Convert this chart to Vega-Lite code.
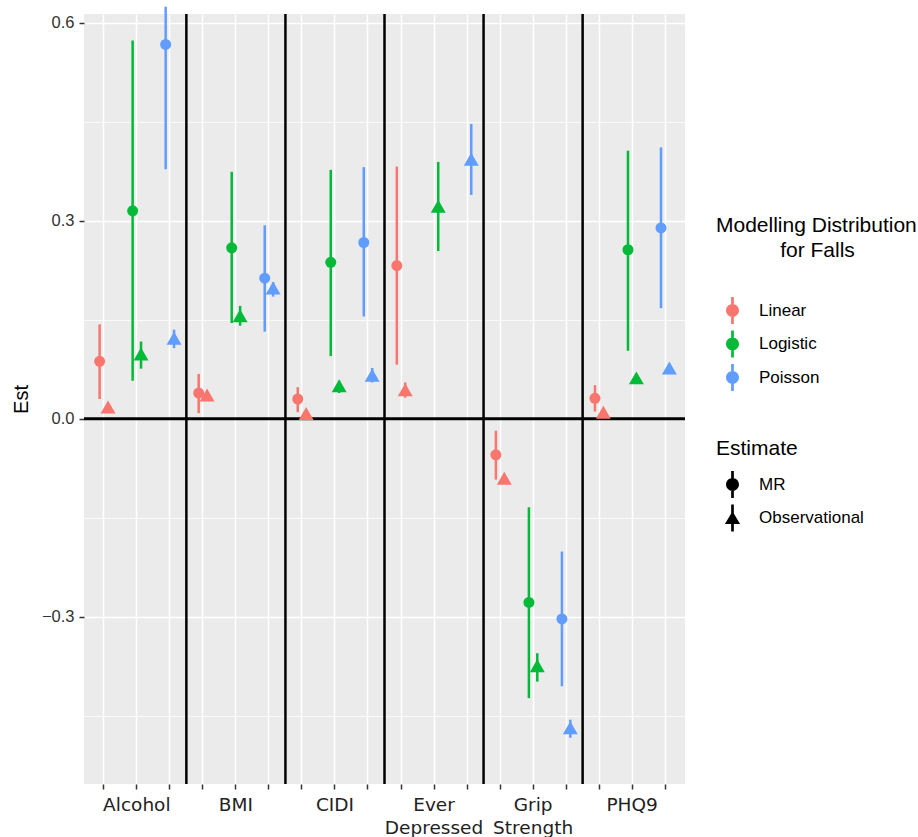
{
  "$schema": "https://vega.github.io/schema/vega-lite/v6.json",
  "width": 601,
  "height": 770,
  "padding": {"left": 11, "top": 5, "right": 0, "bottom": 0},
  "background": "white",
  "config": {
    "view": {"fill": "#EBEBEB", "stroke": null},
    "font": "Liberation Sans"
  },
  "layer": [
    {
      "data": {"values": [
        {"cat": "Alcohol|Poisson"},
        {"cat": "BMI|Poisson"},
        {"cat": "CIDI|Poisson"},
        {"cat": "Ever Depressed|Poisson"},
        {"cat": "Grip Strength|Poisson"}
      ]},
      "mark": {"type": "rule", "color": "black", "strokeWidth": 2.5},
      "encoding": {
        "x": {
          "field": "cat",
          "type": "nominal",
          "bandPosition": 1,
          "scale": {
            "domain": [
              "Alcohol|Linear", "Alcohol|Logistic", "Alcohol|Poisson",
              "BMI|Linear", "BMI|Logistic", "BMI|Poisson",
              "CIDI|Linear", "CIDI|Logistic", "CIDI|Poisson",
              "Ever Depressed|Linear", "Ever Depressed|Logistic", "Ever Depressed|Poisson",
              "Grip Strength|Linear", "Grip Strength|Logistic", "Grip Strength|Poisson",
              "PHQ9|Linear", "PHQ9|Logistic", "PHQ9|Poisson"
            ],
            "paddingInner": 0,
            "paddingOuter": 0.1
          },
          "axis": {
            "title": null,
            "domain": false,
            "grid": true,
            "gridColor": "white",
            "gridWidth": 1.5,
            "ticks": true,
            "tickColor": "#333333",
            "tickSize": 5,
            "tickWidth": 1.5,
            "bandPosition": 0.5,
            "labelExpr": "indexof(datum.value, '|Logistic') > 0 ? split(slice(datum.value, 0, indexof(datum.value, '|')), ' ') : ''",
            "labelFont": "DejaVu Sans",
            "labelFontSize": 18.5,
            "labelColor": "#222222",
            "labelPadding": 6,
            "labelLineHeight": 23,
            "labelAngle": 0,
            "labelOverlap": false,
            "labelBound": false,
            "labelLimit": 0
          }
        }
      }
    },
    {
      "data": {"values": [{}]},
      "mark": {"type": "rule", "color": "black", "strokeWidth": 3},
      "encoding": {
        "y": {"datum": 0, "type": "quantitative", "title": "Est"}
      }
    },
    {
      "data": {"values": [
        {"exp": "Alcohol", "dist": "Linear", "Estimate": "MR", "Est": 0.087, "lo": 0.030, "hi": 0.143},
        {"exp": "Alcohol", "dist": "Linear", "Estimate": "Observational", "Est": 0.018, "lo": 0.014, "hi": 0.022},
        {"exp": "Alcohol", "dist": "Logistic", "Estimate": "MR", "Est": 0.315, "lo": 0.0575, "hi": 0.573},
        {"exp": "Alcohol", "dist": "Logistic", "Estimate": "Observational", "Est": 0.098, "lo": 0.076, "hi": 0.117},
        {"exp": "Alcohol", "dist": "Poisson", "Estimate": "MR", "Est": 0.567, "lo": 0.378, "hi": 0.624},
        {"exp": "Alcohol", "dist": "Poisson", "Estimate": "Observational", "Est": 0.122, "lo": 0.107, "hi": 0.135},
        {"exp": "BMI", "dist": "Linear", "Estimate": "MR", "Est": 0.039, "lo": 0.0086, "hi": 0.068},
        {"exp": "BMI", "dist": "Linear", "Estimate": "Observational", "Est": 0.036, "lo": 0.032, "hi": 0.040},
        {"exp": "BMI", "dist": "Logistic", "Estimate": "MR", "Est": 0.259, "lo": 0.145, "hi": 0.374},
        {"exp": "BMI", "dist": "Logistic", "Estimate": "Observational", "Est": 0.156, "lo": 0.141, "hi": 0.171},
        {"exp": "BMI", "dist": "Poisson", "Estimate": "MR", "Est": 0.213, "lo": 0.132, "hi": 0.293},
        {"exp": "BMI", "dist": "Poisson", "Estimate": "Observational", "Est": 0.198, "lo": 0.185, "hi": 0.207},
        {"exp": "CIDI", "dist": "Linear", "Estimate": "MR", "Est": 0.030, "lo": 0.010, "hi": 0.048},
        {"exp": "CIDI", "dist": "Linear", "Estimate": "Observational", "Est": 0.008, "lo": 0.005, "hi": 0.011},
        {"exp": "CIDI", "dist": "Logistic", "Estimate": "MR", "Est": 0.237, "lo": 0.095, "hi": 0.377},
        {"exp": "CIDI", "dist": "Logistic", "Estimate": "Observational", "Est": 0.050, "lo": 0.039, "hi": 0.0575},
        {"exp": "CIDI", "dist": "Poisson", "Estimate": "MR", "Est": 0.267, "lo": 0.155, "hi": 0.381},
        {"exp": "CIDI", "dist": "Poisson", "Estimate": "Observational", "Est": 0.066, "lo": 0.055, "hi": 0.077},
        {"exp": "Ever Depressed", "dist": "Linear", "Estimate": "MR", "Est": 0.232, "lo": 0.082, "hi": 0.382},
        {"exp": "Ever Depressed", "dist": "Linear", "Estimate": "Observational", "Est": 0.044, "lo": 0.032, "hi": 0.055},
        {"exp": "Ever Depressed", "dist": "Logistic", "Estimate": "Observational", "Est": 0.322, "lo": 0.254, "hi": 0.389},
        {"exp": "Ever Depressed", "dist": "Poisson", "Estimate": "Observational", "Est": 0.393, "lo": 0.339, "hi": 0.4465},
        {"exp": "Grip Strength", "dist": "Linear", "Estimate": "MR", "Est": -0.0545, "lo": -0.092, "hi": -0.018},
        {"exp": "Grip Strength", "dist": "Linear", "Estimate": "Observational", "Est": -0.090, "lo": -0.094, "hi": -0.086},
        {"exp": "Grip Strength", "dist": "Logistic", "Estimate": "MR", "Est": -0.278, "lo": -0.423, "hi": -0.134},
        {"exp": "Grip Strength", "dist": "Logistic", "Estimate": "Observational", "Est": -0.374, "lo": -0.398, "hi": -0.355},
        {"exp": "Grip Strength", "dist": "Poisson", "Estimate": "MR", "Est": -0.303, "lo": -0.405, "hi": -0.201},
        {"exp": "Grip Strength", "dist": "Poisson", "Estimate": "Observational", "Est": -0.468, "lo": -0.483, "hi": -0.4556},
        {"exp": "PHQ9", "dist": "Linear", "Estimate": "MR", "Est": 0.031, "lo": 0.011, "hi": 0.051},
        {"exp": "PHQ9", "dist": "Linear", "Estimate": "Observational", "Est": 0.010, "lo": 0.006, "hi": 0.014},
        {"exp": "PHQ9", "dist": "Logistic", "Estimate": "MR", "Est": 0.256, "lo": 0.103, "hi": 0.406},
        {"exp": "PHQ9", "dist": "Logistic", "Estimate": "Observational", "Est": 0.062, "lo": 0.058, "hi": 0.066},
        {"exp": "PHQ9", "dist": "Poisson", "Estimate": "MR", "Est": 0.289, "lo": 0.1675, "hi": 0.411},
        {"exp": "PHQ9", "dist": "Poisson", "Estimate": "Observational", "Est": 0.077, "lo": 0.073, "hi": 0.081}
      ]},
      "transform": [{"calculate": "datum.exp + '|' + datum.dist", "as": "cat"}],
      "resolve": {"scale": {"shape": "independent"}},
      "encoding": {
        "x": {"field": "cat", "type": "nominal"},
        "xOffset": {
          "field": "Estimate",
          "type": "nominal",
          "scale": {"domain": ["MR", "Observational"], "paddingInner": 0, "paddingOuter": 0.966}
        },
        "color": {
          "field": "dist",
          "type": "nominal",
          "scale": {"domain": ["Linear", "Logistic", "Poisson"], "range": ["#F8766D", "#00BA38", "#619CFF"]},
          "legend": {
            "title": ["Modelling Distribution", "\u200c\u00a0\u00a0\u00a0\u00a0\u00a0\u00a0\u00a0\u00a0\u00a0\u00a0\u00a0for Falls"],
            "orient": "none",
            "legendX": 632,
            "legendY": 201,
            "padding": 0,
            "titleFont": "Liberation Sans",
            "titleFontSize": 21,
            "titleFontWeight": "normal",
            "titleColor": "black",
            "titleAlign": "left",
            "titleAnchor": "start",
            "titleLineHeight": 25,
            "titlePadding": 36,
            "titleLimit": 0,
            "labelFont": "Liberation Sans",
            "labelFontSize": 17,
            "labelColor": "black",
            "symbolType": "M-0.1,-1H0.1V1H-0.1Z M0.48,0A0.48,0.48 0 1,1 -0.48,0A0.48,0.48 0 1,1 0.48,0Z",
            "symbolSize": 729,
            "symbolStrokeWidth": 0,
            "symbolOpacity": 1,
            "symbolOffset": 3,
            "rowPadding": 6.5,
            "labelOffset": 13,
            "encode": {
              "entries": {"fill": {"value": "#F2F2F2"}, "width": {"value": 34}, "height": {"value": 33.5}}
            }
          }
        }
      },
      "layer": [
        {
          "mark": {"type": "rule", "strokeWidth": 2.5},
          "encoding": {
            "y": {"field": "lo", "type": "quantitative", "title": "Est"},
            "y2": {"field": "hi"}
          }
        },
        {
          "mark": {"type": "point", "filled": true, "opacity": 1, "size": 121},
          "encoding": {
            "y": {
              "field": "Est",
              "type": "quantitative",
              "scale": {"domain": [-0.553, 0.613], "nice": false, "zero": false},
              "axis": {
                "title": "Est",
                "titleFont": "Liberation Sans",
                "titleFontSize": 20,
                "titleFontWeight": "normal",
                "titleColor": "black",
                "titlePadding": 10,
                "domain": false,
                "values": [-0.45, -0.3, -0.15, 0, 0.15, 0.3, 0.45, 0.6],
                "labelExpr": "abs(datum.value*10/3 - round(datum.value*10/3)) < 0.01 ? format(datum.value, '.1f') : ''",
                "labelFont": "Liberation Sans",
                "labelFontSize": 16.5,
                "labelColor": "#333333",
                "labelPadding": 5,
                "grid": true,
                "gridColor": "white",
                "gridWidth": {"condition": {"test": "abs(datum.value*10/3 - round(datum.value*10/3)) < 0.01", "value": 1.5}, "value": 0.75},
                "ticks": true,
                "tickColor": "#333333",
                "tickSize": 5,
                "tickWidth": 1.5,
                "tickOpacity": {"condition": {"test": "abs(datum.value*10/3 - round(datum.value*10/3)) < 0.01", "value": 1}, "value": 0},
                "labelOverlap": false
              }
            },
            "shape": {
              "field": "Estimate",
              "type": "nominal",
              "scale": {"domain": ["MR", "Observational"], "range": ["circle", "M0,-1.18L1.36,1.18L-1.36,1.18Z"]},
              "legend": null
            }
          }
        },
        {
          "mark": {"type": "point", "filled": true, "opacity": 0, "size": 121},
          "encoding": {
            "y": {"field": "Est", "type": "quantitative", "title": "Est"},
            "shape": {
              "field": "Estimate",
              "type": "nominal",
              "scale": {
                "domain": ["MR", "Observational"],
                "range": [
                  "M-0.1,-1H0.1V1H-0.1Z M0.48,0A0.48,0.48 0 1,1 -0.48,0A0.48,0.48 0 1,1 0.48,0Z",
                  "M-0.1,-1H0.1V1H-0.1Z M0,-0.5L0.56,0.45L-0.56,0.45Z"
                ]
              },
              "legend": {
                "title": "Estimate",
                "orient": "none",
                "legendX": 632,
                "legendY": 424,
                "padding": 0,
                "titleFont": "Liberation Sans",
                "titleFontSize": 21,
                "titleFontWeight": "normal",
                "titleColor": "black",
                "titlePadding": 12,
                "titleLimit": 0,
                "labelFont": "Liberation Sans",
                "labelFontSize": 17,
                "labelColor": "black",
                "symbolSize": 729,
                "symbolStrokeWidth": 0,
                "symbolFillColor": "black",
                "symbolOpacity": 1,
                "symbolOffset": 3,
                "rowPadding": 6.5,
                "labelOffset": 13,
                "encode": {
                  "entries": {"fill": {"value": "#F2F2F2"}, "width": {"value": 34}, "height": {"value": 33.5}}
                }
              }
            }
          }
        }
      ]
    }
  ]
}
